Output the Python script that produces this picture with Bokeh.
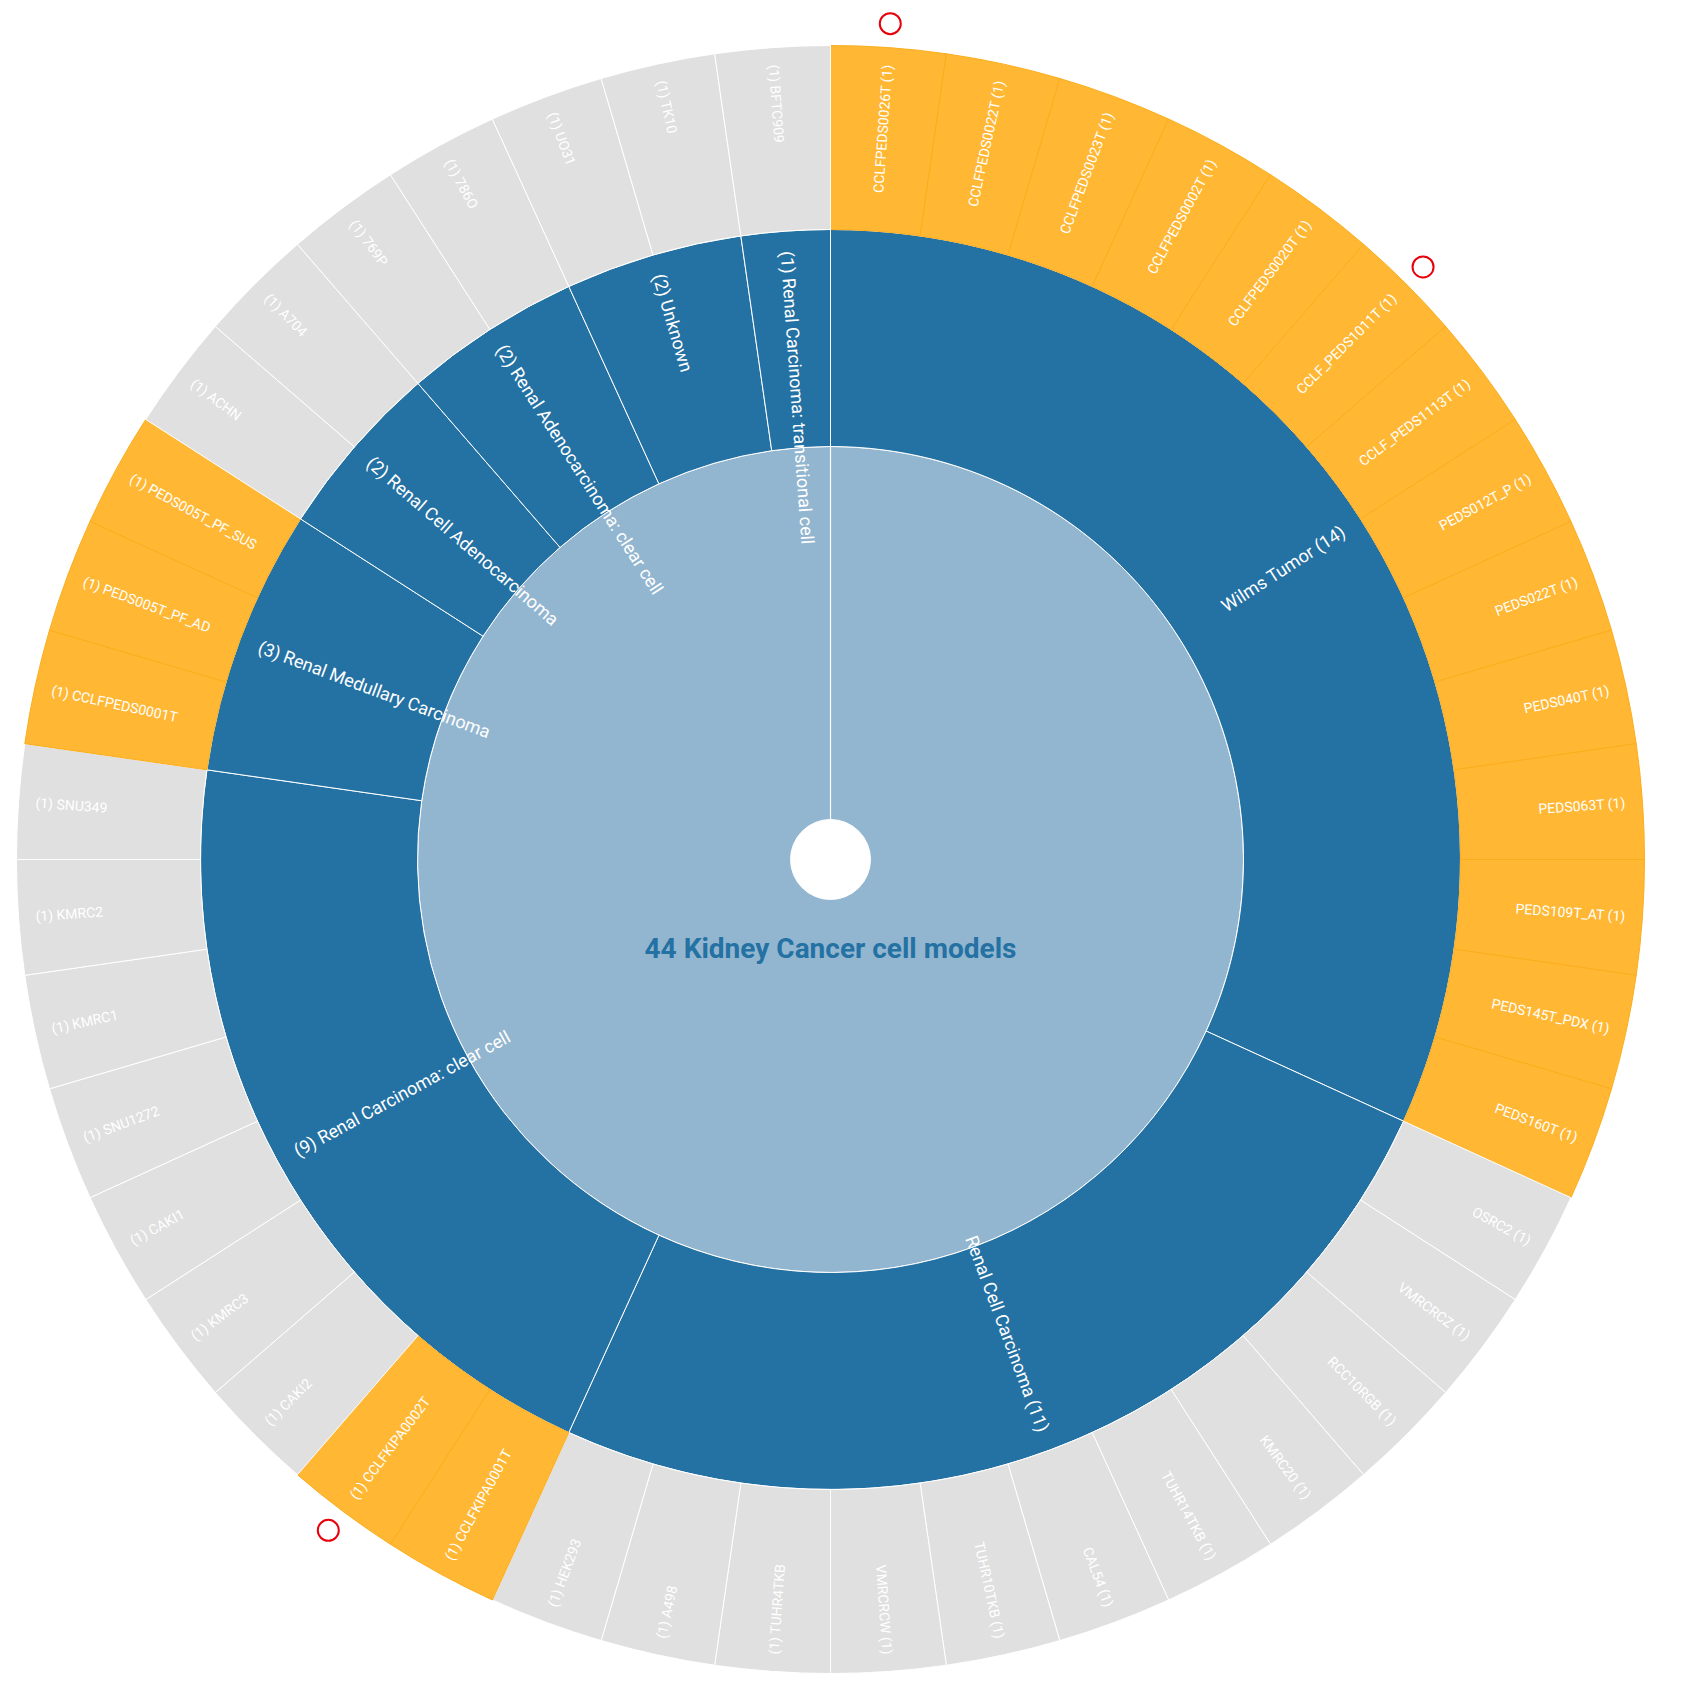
import math
from bokeh.plotting import figure
from bokeh.models import Range1d, ColumnDataSource
from bokeh.core.properties import value
from bokeh.embed import file_html
from bokeh.resources import INLINE

# ---------------- data ----------------
title_text = "44 Kidney Cancer cell models"

# inner ring: subtypes, clockwise from 12 o'clock
subtypes = ["Wilms Tumor", "Renal Cell Carcinoma", "Renal Carcinoma: clear cell",
            "Renal Medullary Carcinoma", "Renal Cell Adenocarcinoma",
            "Renal Adenocarcinoma: clear cell", "Unknown",
            "Renal Carcinoma: transitional cell"]
subtype_counts = [14, 11, 9, 3, 2, 2, 2, 1]

# outer ring: cell models, clockwise from 12 o'clock
models = ["CCLFPEDS0026T", "CCLFPEDS0022T", "CCLFPEDS0023T", "CCLFPEDS0002T",
          "CCLFPEDS0020T", "CCLF_PEDS1011T", "CCLF_PEDS1113T", "PEDS012T_P",
          "PEDS022T", "PEDS040T", "PEDS063T", "PEDS109T_AT", "PEDS145T_PDX",
          "PEDS160T",
          "OSRC2", "VMRCRCZ", "RCC10RGB", "KMRC20", "TUHR14TKB", "CAL54",
          "TUHR10TKB", "VMRCRCW", "TUHR4TKB", "A498", "HEK293",
          "CCLFKIPA0001T", "CCLFKIPA0002T", "CAKI2", "KMRC3", "CAKI1",
          "SNU1272", "KMRC1", "KMRC2", "SNU349",
          "CCLFPEDS0001T", "PEDS005T_PF_AD", "PEDS005T_PF_SUS",
          "ACHN", "A704",
          "769P", "786O",
          "UO31", "TK10",
          "BFTC909"]
model_counts = [1, 1, 1, 1, 1, 1, 1, 1, 1, 1, 1, 1, 1, 1,
                1, 1, 1, 1, 1, 1, 1, 1, 1, 1, 1,
                1, 1, 1, 1, 1, 1, 1, 1, 1,
                1, 1, 1,
                1, 1,
                1, 1,
                1, 1,
                1]
# model group: pediatric (CCLF / PEDS) models vs other models
model_group = [
    "peds", "peds", "peds", "peds", "peds", "peds", "peds", "peds", "peds",
    "peds", "peds", "peds", "peds", "peds",
    "other", "other", "other", "other", "other", "other", "other", "other",
    "other", "other", "other",
    "peds", "peds", "other", "other", "other", "other", "other", "other", "other",
    "peds", "peds", "peds",
    "other", "other",
    "other", "other",
    "other", "other",
    "other"]
highlighted = ["CCLFPEDS0026T", "CCLF_PEDS1011T", "CCLFKIPA0002T"]

# ---------------- style ----------------
DARK = "#2471A3"
LIGHT = "#93B6D0"
ORANGE = "#FFB734"
ORANGE_LINE = "#FBAE1C"
GREY = "#E0E0E0"
FONT = "Roboto"

W, H = 1701, 1691
CX, CY = 830, H - 859
R_HOLE, R_ROOT, R_MID, R_OUT = 40, 413, 630, 814
R_MID_LABEL, R_OUT_LABEL, R_MARK = 610, 797, 838

p = figure(width=W, height=H, x_range=Range1d(0, W), y_range=Range1d(0, H),
           output_backend="svg", toolbar_location=None,
           x_axis_type=None, y_axis_type=None, min_border=0,
           outline_line_color=None, background_fill_color="white")
p.grid.visible = False

total = sum(subtype_counts)


def ring(names, counts, r_lab):
    acc = 0
    rows = dict(start=[], end=[], lx=[], ly=[], la=[], align=[], label=[], mid=[])
    for name, c in zip(names, counts):
        t1 = 2 * math.pi * acc / total
        t2 = 2 * math.pi * (acc + c) / total
        acc += c
        tm = (t1 + t2) / 2
        rows["start"].append(math.pi / 2 - t2)
        rows["end"].append(math.pi / 2 - t1)
        rows["mid"].append(tm)
        rows["lx"].append(CX + r_lab * math.sin(tm))
        rows["ly"].append(CY + r_lab * math.cos(tm))
        if tm < math.pi:
            rows["la"].append(math.pi / 2 - tm)
            rows["align"].append("right")
            rows["label"].append(f"{name} ({c})")
        else:
            rows["la"].append(math.pi / 2 - tm + math.pi)
            rows["align"].append("left")
            rows["label"].append(f"({c}) {name}")
    return rows


# root circle
p.annulus(x=CX, y=CY, inner_radius=R_HOLE, outer_radius=R_ROOT,
          fill_color=LIGHT, line_color="white", line_width=1)
p.segment(x0=[CX], y0=[CY + R_HOLE], x1=[CX], y1=[CY + R_ROOT],
          line_color="white", line_width=1.2)

# middle ring
mid = ring(subtypes, subtype_counts, R_MID_LABEL)
src_mid = ColumnDataSource(mid)
p.annular_wedge(x=CX, y=CY, inner_radius=R_ROOT, outer_radius=R_MID,
                start_angle="start", end_angle="end", source=src_mid,
                fill_color=DARK, line_color="white", line_width=1)

# outer ring
out = ring(models, model_counts, R_OUT_LABEL)
out["fill"] = [ORANGE if g == "peds" else GREY for g in model_group]
out["line"] = [ORANGE_LINE if g == "peds" else "white" for g in model_group]
src_out = ColumnDataSource(out)
p.annular_wedge(x=CX, y=CY, inner_radius=R_MID, outer_radius=R_OUT,
                start_angle="start", end_angle="end", source=src_out,
                fill_color="fill", line_color="line", line_width=1)

# labels
p.text(x="lx", y="ly", text="label", angle="la", text_align="align",
       source=src_mid, text_baseline="middle", text_color="white",
       text_font=value(FONT), text_font_size="18px")
p.text(x="lx", y="ly", text="label", angle="la", text_align="align",
       source=src_out, text_baseline="middle", text_color="white",
       text_font=value(FONT), text_font_size="14px")

# highlighted models
mx, my = [], []
for name, tm in zip(models, out["mid"]):
    if name in highlighted:
        mx.append(CX + R_MARK * math.sin(tm))
        my.append(CY + R_MARK * math.cos(tm))
p.scatter(x=mx, y=my, marker="circle", size=21, fill_color=None,
          line_color="#E8000B", line_width=2)

# title
p.text(x=[CX], y=[CY - 89], text=[title_text], text_align="center",
       text_baseline="middle", text_color=DARK, text_font=value(FONT),
       text_font_size="28px", text_font_style="bold")

open("out.html", "w").write(file_html(p, INLINE))
